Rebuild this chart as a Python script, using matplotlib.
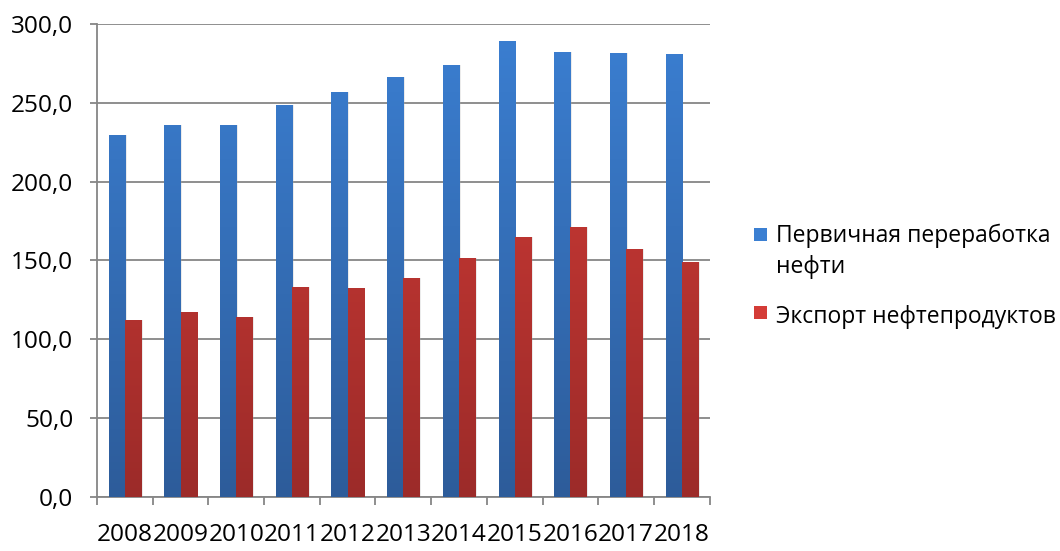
import numpy as np
import matplotlib.pyplot as plt
from matplotlib.colors import LinearSegmentedColormap
from matplotlib.patches import Rectangle

plt.rcParams['font.family'] = ['Open Sans', 'DejaVu Sans']

# Данные
years = ['2008', '2009', '2010', '2011', '2012', '2013', '2014', '2015', '2016', '2017', '2018']
refining = [229.5, 235.8, 235.8, 248.5, 256.8, 266.3, 274.2, 289.5, 282.5, 281.5, 281.0]
export = [112.0, 117.6, 114.4, 132.9, 132.3, 138.6, 151.5, 164.8, 171.0, 157.0, 148.9]

series_names = ['Первичная переработка', 'нефти', 'Экспорт нефтепродуктов']
# цвета градиента: верх, низ
blue_grad = ('#3b7fd2', '#2d5c9a')
red_grad = ('#d43c37', '#9c2b29')

FS = 17.6
FS_LEG = 16.5

fig = plt.figure(figsize=(10.6, 5.51), dpi=100)
ax = fig.add_axes([0.0915, 0.098, 0.578, 0.8585])

x = np.arange(len(years))
w = 0.29


def gradient_bars(ax, xs, values, colors, offset):
    bars = ax.bar(xs + offset, values, width=w, color=colors[0], edgecolor='none', zorder=3)
    cmap = LinearSegmentedColormap.from_list('g', [colors[1], colors[0]])
    grad = np.linspace(0, 1, 256).reshape(-1, 1)
    for b in bars:
        x0 = b.get_x()
        x1 = x0 + b.get_width()
        # лёгкая тень справа
        ax.bar(x0 + b.get_width() / 2 + 0.03, b.get_height(), width=b.get_width(),
               color='#b0b0b0', alpha=0.25, edgecolor='none', zorder=2)
        im = ax.imshow(grad, extent=(x0, x1, 0, 300), origin='lower', cmap=cmap,
                       aspect='auto', zorder=3.5, interpolation='bilinear')
        im.set_clip_path(b)
    return bars


gradient_bars(ax, x, refining, blue_grad, -w / 2)
gradient_bars(ax, x, export, red_grad, w / 2)

ax.set_xlim(-0.5, len(years) - 0.5)
ax.set_ylim(0, 300)
ax.set_yticks(np.arange(0, 301, 50))
ax.set_yticklabels([f'{v:.1f}'.replace('.', ',') for v in np.arange(0, 301, 50)])

ax.set_xticks(np.arange(-0.5, len(years), 1))
ax.set_xticklabels([])
ax.set_xticks(x, minor=True)
ax.set_xticklabels(years, minor=True)
ax.tick_params(axis='x', which='major', length=6, width=1.3, color='#868686', direction='out')
ax.tick_params(axis='x', which='minor', length=0, pad=19, labelsize=FS)
ax.tick_params(axis='y', length=5, width=1.3, color='#868686', pad=12, labelsize=FS)

ax.yaxis.grid(True, color='#868686', linewidth=1.3, zorder=0)
ax.set_axisbelow(True)
for s in ['top', 'right']:
    ax.spines[s].set_visible(False)
for s in ['left', 'bottom']:
    ax.spines[s].set_color('#868686')
    ax.spines[s].set_linewidth(1.3)

# Легенда справа от графика
sq_w, sq_h = 13 / 1060, 13 / 551
fig.patches.append(Rectangle((0.7113, 0.5626), sq_w, sq_h, transform=fig.transFigure,
                             facecolor=blue_grad[0], edgecolor='none'))
fig.text(0.732, 0.5615, series_names[0], fontsize=FS_LEG, va='baseline', ha='left')
fig.text(0.732, 0.5045, series_names[1], fontsize=FS_LEG, va='baseline', ha='left')
fig.patches.append(Rectangle((0.7113, 0.421), sq_w, sq_h, transform=fig.transFigure,
                             facecolor=red_grad[0], edgecolor='none'))
fig.text(0.732, 0.4138, series_names[2], fontsize=FS_LEG, va='baseline', ha='left')

fig.savefig('out.png', dpi=100)
